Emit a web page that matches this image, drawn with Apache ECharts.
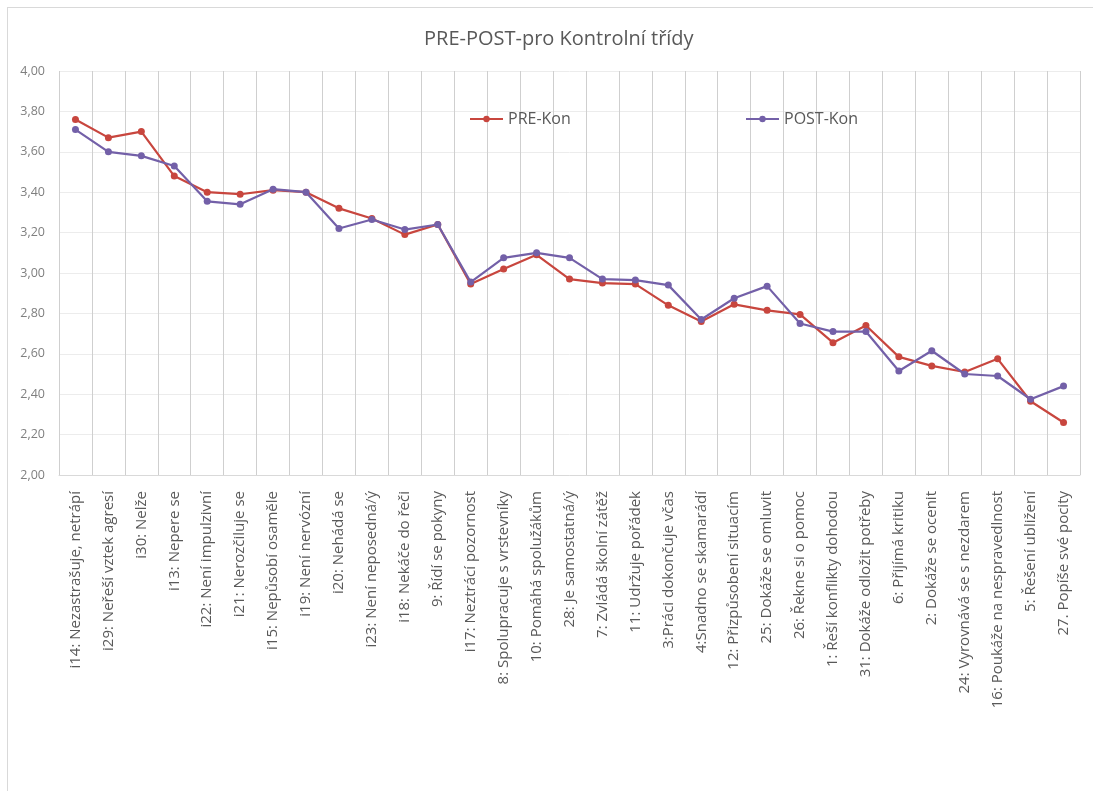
<!DOCTYPE html>
<html>
<head>
<meta charset="utf-8">
<script src="https://cdn.jsdelivr.net/npm/echarts@6/dist/echarts.min.js"></script>
<style>
html,body{margin:0;padding:0;background:#fff;}
#frame{position:absolute;left:7px;top:7px;width:1100px;height:800px;border:1px solid #d9d9d9;box-sizing:border-box;}
#chart{position:absolute;left:0;top:0;width:1093px;height:791px;}
</style>
</head>
<body>
<div id="frame"></div>
<div id="chart"></div>
<script>
const categories = [
  "i14: Nezastrašuje, netrápí",
  "i29: Neřeší vztek agresí",
  "i30: Nelže",
  "i13: Nepere se",
  "i22: Není impulzivní",
  "i21: Nerozčiluje se",
  "i15: Nepůsobí osaměle",
  "i19: Není nervózní",
  "i20: Nehádá se",
  "i23: Není neposedná/ý",
  "i18: Nekáče do řeči",
  "9: Řídí se pokyny",
  "i17: Neztrácí pozornost",
  "8: Spolupracuje s vrstevníky",
  "10: Pomáhá spolužákům",
  "28: Je samostatná/ý",
  "7: Zvládá školní zátěž",
  "11: Udržuje pořádek",
  "3:Práci dokončuje včas",
  "4:Snadno se skamarádí",
  "12: Přizpůsobení situacím",
  "25: Dokáže se omluvit",
  "26: Řekne si o pomoc",
  "1: Řeší konflikty dohodou",
  "31: Dokáže odložit potřeby",
  "6: Přijímá kritiku",
  "2: Dokáže se ocenit",
  "24: Vyrovnává se s nezdarem",
  "16: Poukáže na nespravedlnost",
  "5: Řešení ubližení",
  "27. Popíše své pocity"
];
const preKon = [3.76, 3.67, 3.70, 3.48, 3.40, 3.39, 3.41, 3.40, 3.32, 3.27, 3.19, 3.24, 2.945, 3.02, 3.09, 2.97, 2.95, 2.945, 2.84, 2.76, 2.845, 2.815, 2.795, 2.655, 2.74, 2.585, 2.54, 2.51, 2.575, 2.365, 2.26];
const postKon = [3.71, 3.60, 3.58, 3.53, 3.355, 3.34, 3.415, 3.40, 3.22, 3.265, 3.215, 3.24, 2.955, 3.075, 3.10, 3.075, 2.97, 2.965, 2.94, 2.77, 2.875, 2.935, 2.75, 2.71, 2.71, 2.515, 2.615, 2.50, 2.49, 2.375, 2.44];
const yMin = 2, yMax = 4, yStep = 0.2;

const chart = echarts.init(document.getElementById('chart'), null, {renderer:'canvas'});
const font = '"Open Sans", "Noto Sans", sans-serif';
chart.setOption({
  animation:false,
  backgroundColor:'transparent',
  title:{
    text:'PRE-POST-pro Kontrolní třídy',
    left:419, top:24,
    textStyle:{fontFamily:font, fontSize:20, fontWeight:'normal', color:'#595959'}
  },
  legend:[
    {data:['PRE-Kon'], left:464, top:106, itemWidth:33, itemHeight:8, textStyle:{fontFamily:font, fontSize:16, color:'#595959'}},
    {data:['POST-Kon'], left:740, top:106, itemWidth:33, itemHeight:8, textStyle:{fontFamily:font, fontSize:16, color:'#595959'}}
  ],
  grid:{left:59, right:13, top:71, bottom:316, containLabel:false},
  xAxis:{
    type:'category', data:categories, boundaryGap:true,
    axisLine:{show:true, lineStyle:{color:'#d9d9d9'}},
    axisTick:{show:false},
    splitLine:{show:true, interval:0, lineStyle:{color:'#cfcfcf', width:1}},
    axisLabel:{interval:0, rotate:90, fontFamily:font, fontSize:15, color:'#595959', margin:16}
  },
  yAxis:{
    type:'value', min:yMin, max:yMax, interval:yStep,
    axisLine:{show:false}, axisTick:{show:false},
    splitLine:{lineStyle:{color:'#ececec'}},
    axisLabel:{fontFamily:font, fontSize:12.5, color:'#7f7f7f', margin:14,
      formatter:v=>v.toFixed(2).replace('.', ',')}
  },
  series:[
    {name:'PRE-Kon', type:'line', data:preKon, symbol:'circle', symbolSize:7,
      lineStyle:{color:'#c8463e', width:2.2}, itemStyle:{color:'#c8463e'}, z:3},
    {name:'POST-Kon', type:'line', data:postKon, symbol:'circle', symbolSize:7,
      lineStyle:{color:'#7360a8', width:2.2}, itemStyle:{color:'#7360a8'}, z:4}
  ]
});
</script>
</body>
</html>
